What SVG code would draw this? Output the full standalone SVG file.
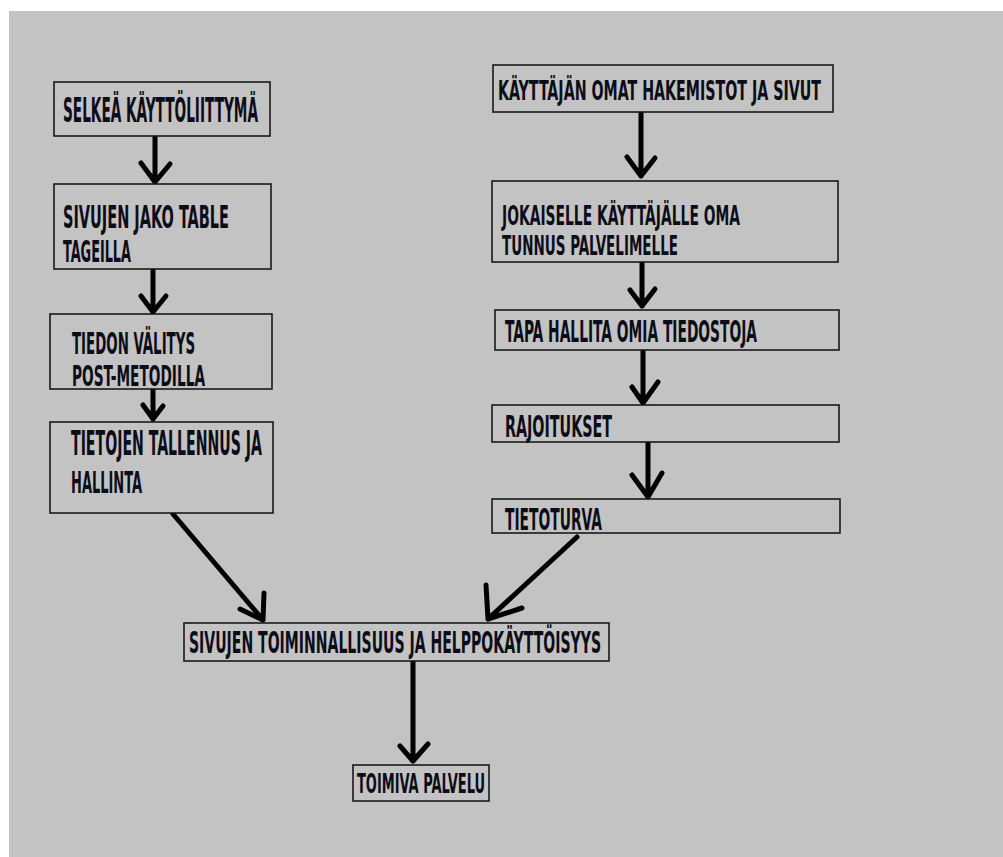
<svg xmlns="http://www.w3.org/2000/svg" width="1003" height="857" viewBox="0 0 1003 857">
<style>
.box{fill:#c3c3c3;stroke:#1a1a1a;stroke-width:1.6}
.t{font-family:"DejaVu Sans Condensed","DejaVu Sans","Liberation Sans",sans-serif;font-stretch:condensed;font-weight:bold;fill:#0d0d18}
.c{fill:none;stroke:#000;stroke-width:5;stroke-linecap:round;stroke-linejoin:round}
</style>
<rect x="0" y="0" width="1003" height="857" fill="#ffffff"/>
<rect x="9" y="11" width="994" height="846" fill="#c3c3c3"/>

<g id="connectors">
<path class="c" d="M155,136 V182 M141,163 L155,182 L170,164"/>
<path class="c" d="M153,269 V312 M141,296 L153,312 L166,296"/>
<path class="c" d="M153,389 V419 M143,405 L153,419 L163,406"/>
<path class="c" d="M641,112 V176 M627,157 L641,176 L655,158"/>
<path class="c" d="M642,262 V306 M630,290 L642,306 L655,289"/>
<path class="c" d="M643,350 V403 M632,387 L643,403 L658,382"/>
<path class="c" d="M648,442 V497 M632,475 L648,497 L662,473"/>
<path class="c" d="M173,514 L263,620 M264,593 L263,620 L240,609"/>
<path class="c" d="M577,537 L488,619 M486,585 L488,619 L522,608"/>
<path class="c" d="M413,661 V761 M400,746 L413,761 L428,744"/>
</g>

<g id="n1"><rect class="box" x="54" y="82" width="216" height="54"/>
<text class="t" x="63" y="122" font-size="33" textLength="195" lengthAdjust="spacingAndGlyphs">SELKEÄ KÄYTTÖLIITTYMÄ</text></g>

<g id="n2"><rect class="box" x="54" y="184" width="217" height="85"/>
<text class="t" x="63" y="228" font-size="32" textLength="166" lengthAdjust="spacingAndGlyphs">SIVUJEN JAKO TABLE</text>
<text class="t" x="63" y="262" font-size="31" textLength="68" lengthAdjust="spacingAndGlyphs">TAGEILLA</text></g>

<g id="n3"><rect class="box" x="50" y="314" width="222" height="75"/>
<text class="t" x="72" y="354" font-size="30" textLength="123" lengthAdjust="spacingAndGlyphs">TIEDON VÄLITYS</text>
<text class="t" x="72" y="386" font-size="29" textLength="133" lengthAdjust="spacingAndGlyphs">POST-METODILLA</text></g>

<g id="n4"><rect class="box" x="50" y="422" width="223" height="91"/>
<text class="t" x="71" y="455" font-size="34" textLength="191" lengthAdjust="spacingAndGlyphs">TIETOJEN TALLENNUS JA</text>
<text class="t" x="71" y="493" font-size="30" textLength="71" lengthAdjust="spacingAndGlyphs">HALLINTA</text></g>

<g id="r1"><rect class="box" x="493" y="65" width="340" height="47"/>
<text class="t" x="498" y="100" font-size="26" textLength="323" lengthAdjust="spacingAndGlyphs">KÄYTTÄJÄN OMAT HAKEMISTOT JA SIVUT</text></g>

<g id="r2"><rect class="box" x="492" y="181" width="346" height="81"/>
<text class="t" x="502" y="225" font-size="27" textLength="238" lengthAdjust="spacingAndGlyphs">JOKAISELLE KÄYTTÄJÄLLE OMA</text>
<text class="t" x="502" y="255" font-size="27" textLength="176" lengthAdjust="spacingAndGlyphs">TUNNUS PALVELIMELLE</text></g>

<g id="r3"><rect class="box" x="495" y="310" width="344" height="40"/>
<text class="t" x="505" y="342" font-size="30" textLength="252" lengthAdjust="spacingAndGlyphs">TAPA HALLITA OMIA TIEDOSTOJA</text></g>

<g id="r4"><rect class="box" x="492" y="405" width="347" height="37"/>
<text class="t" x="505" y="437" font-size="30" textLength="107" lengthAdjust="spacingAndGlyphs">RAJOITUKSET</text></g>

<g id="r5"><rect class="box" x="492" y="499" width="348" height="34"/>
<text class="t" x="505" y="530" font-size="31" textLength="97" lengthAdjust="spacingAndGlyphs">TIETOTURVA</text></g>

<g id="m"><rect class="box" x="184" y="623" width="425" height="38"/>
<text class="t" x="189" y="653" font-size="30" textLength="412" lengthAdjust="spacingAndGlyphs">SIVUJEN TOIMINNALLISUUS JA HELPPOKÄYTTÖISYYS</text></g>

<g id="f"><rect class="box" x="353" y="765" width="136" height="36"/>
<text class="t" x="357" y="793" font-size="27" textLength="128" lengthAdjust="spacingAndGlyphs">TOIMIVA PALVELU</text></g>
</svg>
